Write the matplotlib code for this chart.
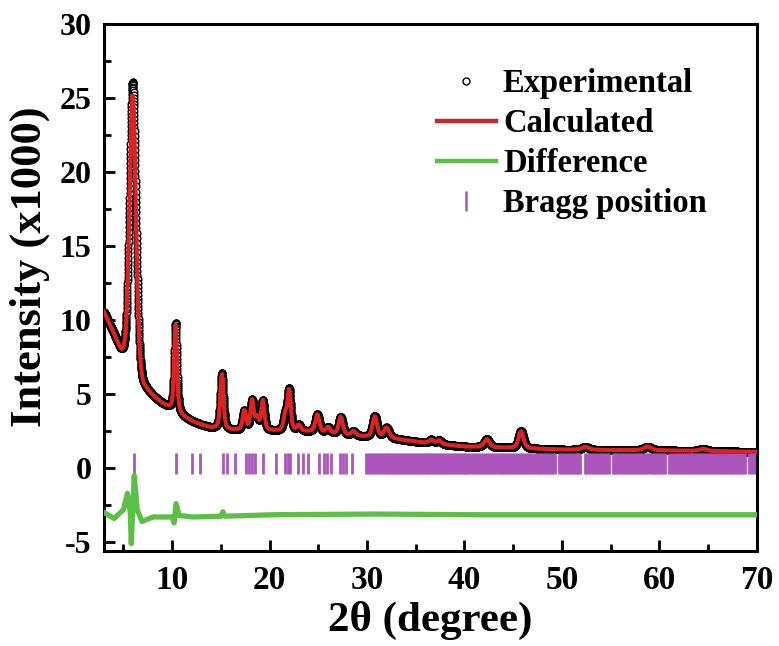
import numpy as np
import matplotlib
matplotlib.use("Agg")
import matplotlib.pyplot as plt
from matplotlib.lines import Line2D
from matplotlib.ticker import MultipleLocator

# ---- data (intensity in units of 1000 counts) ----
bg_x = [3, 4, 4.75, 5.5, 6, 7, 8, 9, 10, 11, 12, 13, 14, 16, 18, 20, 24, 28, 30, 33, 36, 40, 45, 50, 60, 70]
bg_y = [10.5, 9.0, 7.7, 6.9, 6.5, 5.4, 4.8, 4.3, 3.9, 3.5, 3.15, 2.9, 2.7, 2.55, 2.5, 2.5, 2.45, 2.2, 2.1, 1.95, 1.7, 1.45, 1.35, 1.25, 1.2, 1.1]

peak_pos = [5.95, 10.35, 15.1, 17.4, 18.2, 18.7, 19.3, 21.6, 22.0, 23.0, 24.9, 26.0, 27.3, 28.6,
            30.8, 32.0, 36.6, 37.4, 42.3, 45.8, 52.4, 58.8, 64.5]
peak_calc = [18.6, 5.9, 3.7, 1.3, 2.0, 0.8, 2.0, 1.0, 2.7, 0.4, 1.2, 0.4, 1.2, 0.3,
             1.4, 0.7, 0.25, 0.25, 0.55, 1.15, 0.2, 0.25, 0.15]
peak_obs = [19.5, 6.0, 3.8, 1.3, 2.0, 0.8, 2.0, 1.0, 2.8, 0.4, 1.2, 0.4, 1.2, 0.3,
            1.45, 0.7, 0.25, 0.25, 0.55, 1.2, 0.2, 0.25, 0.15]
peak_fwhm = [0.78, 0.34, 0.38, 0.4, 0.4, 0.4, 0.4, 0.4, 0.4, 0.45, 0.5, 0.5, 0.5, 0.5,
             0.55, 0.65, 0.55, 0.55, 0.65, 0.6, 0.8, 0.9, 0.9]
peak_eta = [0.2, 0.5, 0.5, 0.5, 0.5, 0.5, 0.5, 0.5, 0.5, 0.5, 0.5, 0.5, 0.5, 0.5,
            0.5, 0.5, 0.5, 0.5, 0.5, 0.5, 0.5, 0.5, 0.5]

diff_x = [3.0, 4.05, 5.0, 5.4, 5.7, 5.8, 6.1, 6.4, 6.9, 8.0, 10.0, 10.2, 10.4, 10.7, 12, 15.0, 15.2, 15.4, 20, 30, 40, 50, 60, 70]
diff_y = [-3.0, -3.4, -2.8, -1.7, -3.0, -5.1, -0.5, -2.8, -3.6, -3.3, -3.3, -3.7, -2.4, -3.2, -3.3, -3.25, -2.95, -3.25, -3.15, -3.1, -3.15, -3.15, -3.15, -3.15]

bragg_low = [6.03, 10.44, 12.0, 12.9, 15.2, 15.6, 16.4, 17.6, 17.9, 18.2, 18.5, 19.3, 20.7, 21.6,
             21.9, 22.1, 22.9, 23.4, 23.9, 25.1, 25.6, 25.9, 26.3, 27.2, 27.5, 27.8, 28.5]
bragg_high_ranges = [(29.9, 49.3), (49.7, 52.0), (52.4, 54.8), (55.2, 60.6), (61.0, 68.8), (69.2, 70.0)]

# ---- build profiles from the read peak table ----
x = np.arange(3.0, 70.0001, 0.01)

def profile(heights):
    y = np.interp(x, bg_x, bg_y)
    for p, h, w, eta in zip(peak_pos, heights, peak_fwhm, peak_eta):
        d = (x - p) / (w / 2)
        lor = 1.0 / (1.0 + d ** 2)
        gau = np.exp(-np.log(2) * d ** 2)
        y = y + h * (eta * lor + (1 - eta) * gau)
    return y

y_calc = profile(peak_calc)
y_obs = profile(peak_obs)
y_diff = np.interp(x, diff_x, diff_y)

bragg = list(bragg_low)
for a, b in bragg_high_ranges:
    bragg += list(np.arange(a, b + 1e-6, 0.2))

# ---- figure ----
plt.rcParams['font.family'] = ['Liberation Serif', 'DejaVu Serif']
plt.rcParams['font.weight'] = 'bold'
plt.rcParams['axes.unicode_minus'] = False
fig = plt.figure(figsize=(7.79, 6.46), dpi=100)
ax = fig.add_axes([0.1335, 0.147, 0.838, 0.816])

purple = '#ab55bd'
red = '#dc2222'
green = '#5cc046'

ax.plot(x, y_obs, linestyle='none', marker='o', markersize=4.8, markerfacecolor='white',
        markeredgecolor='black', markeredgewidth=1.0, zorder=2)
ax.plot(x, y_calc, color=red, linewidth=3.0, zorder=3)
ax.plot(x, y_diff, color=green, linewidth=3.8, zorder=3)
ax.vlines(bragg, -0.4, 1.05, color=purple, linewidth=2.0, zorder=2)

ax.set_xlim(3, 70)
ax.set_ylim(-5.6, 30)
ax.xaxis.set_major_locator(MultipleLocator(10))
ax.xaxis.set_minor_locator(MultipleLocator(5))
ax.yaxis.set_major_locator(MultipleLocator(5))
ax.yaxis.set_minor_locator(MultipleLocator(2.5))
ax.tick_params(which='both', direction='in', width=2, top=False, right=False)
ax.tick_params(axis='x', labelsize=24, pad=10)
ax.tick_params(axis='y', labelsize=23, pad=9)
ax.tick_params(which='major', length=8)
ax.tick_params(which='minor', length=5)
for s in ax.spines.values():
    s.set_linewidth(2.2)
for lab in ax.get_xticklabels() + ax.get_yticklabels():
    lab.set_fontweight('bold')

ax.set_xlabel('2θ (degree)', fontsize=31, fontweight='bold')
ax.set_ylabel('Intensity (x1000)', fontsize=32, fontweight='bold')
ax.xaxis.set_label_coords(0.5, -0.095)
ax.yaxis.set_label_coords(-0.083, 0.539)

handles = [
    Line2D([], [], linestyle='none', marker='o', markersize=5, markerfacecolor='white',
           markeredgecolor='black', markeredgewidth=1.0),
    Line2D([], [], color='#c42a2a', linewidth=3.2),
    Line2D([], [], color=green, linewidth=3.2),
    Line2D([], [], linestyle='none', marker='|', markersize=15, markeredgewidth=1.8,
           markeredgecolor=purple),
]
labels = ['Experimental', 'Calculated', 'Difference', 'Bragg position']
leg = ax.legend(handles, labels, loc='upper left', bbox_to_anchor=(437 / 779, 1 - 68 / 646),
                bbox_transform=fig.transFigure, frameon=False, borderpad=0, borderaxespad=0,
                handlelength=1.8, handletextpad=0.22, labelspacing=0.28,
                prop={'weight': 'bold', 'size': 23.5})

fig.savefig('out.png', dpi=100)
